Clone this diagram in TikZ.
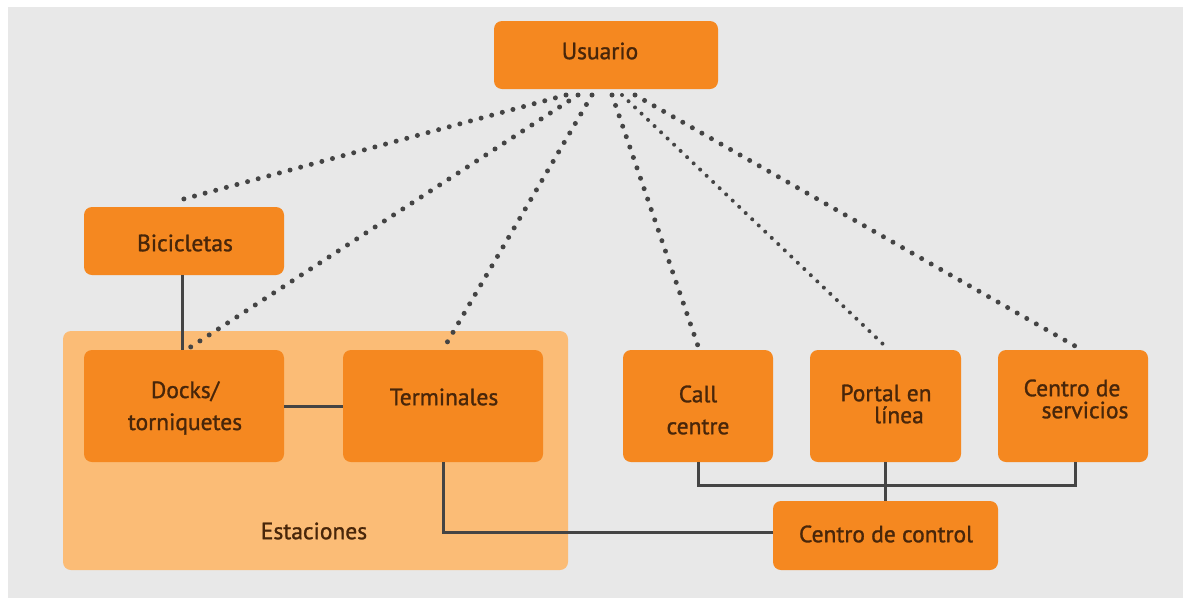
\documentclass[tikz,border=0pt]{standalone}
\usepackage{fontspec}
\setmainfont{PT Sans}
\newfontfamily\labfont{PT Sans}[FakeBold=1.2]
\definecolor{bgc}{RGB}{232,232,232}
\definecolor{orng}{RGB}{245,136,32}
\definecolor{lorng}{RGB}{251,188,118}
\definecolor{txt}{RGB}{72,38,10}
\definecolor{lnc}{RGB}{68,68,68}
\begin{document}
\begin{tikzpicture}[x=1pt,y=-1pt,
  box/.style={fill=orng,rounded corners=8pt,inner sep=0pt},
  lab/.style={text=txt,font=\labfont\fontsize{23.5}{23.5}\selectfont,align=center,inner sep=0pt},
  dots/.style={draw=lnc,line width=5pt,line cap=round,dash pattern=on 0pt off 11pt},
  thindots/.style={draw=lnc,line width=4pt,line cap=round,dash pattern=on 0pt off 9pt},
  solid line/.style={draw=lnc,line width=3pt}]
\useasboundingbox (0,0) rectangle (1183,598);
\fill[white] (0,0) rectangle (1183,598);
\fill[bgc] (8,7) rectangle (1183,598);
% Estaciones panel
\node[fill=lorng,rounded corners=8pt,minimum width=505pt,minimum height=239pt,inner sep=0pt] (est) at (315.5,450.5) {};
\node[lab] (estl) at (314,531) {Estaciones};
% boxes
\node[box,minimum width=224pt,minimum height=68pt] (usu) at (606,55) {};
\node[lab] (usut) at (600,51) {Usuario};
\node[box,minimum width=200pt,minimum height=68pt] (bic) at (184,241) {};
\node[lab] (bict) at (185,243) {Bicicletas};
\node[box,minimum width=200pt,minimum height=112pt] (doc) at (184,406) {};
\node[lab,font=\labfont\fontsize{23.5}{32}\selectfont] (doct) at (185,408) {Docks/\\torniquetes};
\node[box,minimum width=200pt,minimum height=112pt] (ter) at (443,406) {};
\node[lab] (tert) at (444,397) {Terminales};
\node[box,minimum width=150pt,minimum height=112pt] (cal) at (698,406) {};
\node[lab,font=\labfont\fontsize{23.5}{32}\selectfont] (calt) at (698,410) {Call\\centre};
\node[box,minimum width=151pt,minimum height=112pt] (por) at (885.5,406) {};
\node[lab,font=\labfont\fontsize{23.5}{22}\selectfont] (port) at (886,404) {Portal en\\\hspace*{26pt}línea};
\node[box,minimum width=150pt,minimum height=112pt] (ser) at (1073,406) {};
\node[lab,font=\labfont\fontsize{23.5}{22}\selectfont] (sert) at (1072,399) {Centro de\\\hspace*{26pt}servicios};
\node[box,minimum width=225pt,minimum height=69pt] (ctl) at (885.5,535.5) {};
\node[lab] (ctlt) at (886,534) {Centro de control};
% attachment coordinates
\coordinate (u1) at (566,95);
\coordinate (u2) at (578,95);
\coordinate (u3) at (592,95);
\coordinate (u4) at (612,95);
\coordinate (u5) at (622,95);
\coordinate (u6) at (635,95);
\coordinate (b1) at (180,200);
\coordinate (d1) at (186,350);
\coordinate (t1) at (445,346);
\coordinate (c1) at (698,346);
\coordinate (p1) at (885,346);
\coordinate (s1) at (1075,346);
% dotted connectors
\draw[dots] (u1) -- (b1);
\draw[dots] (u2) -- (d1);
\draw[dots] (u3) -- (t1);
\draw[dots] (u4) -- (c1);
\draw[thindots] (u5) -- (p1);
\draw[dots] (u6) -- (s1);
% solid connectors
\draw[solid line] (bic.south -| 182,0) -- (doc.north -| 182,0);
\draw[solid line] (doc.east) -- (ter.east -| ter.west);
\draw[solid line] (ter.south) -- (443,532) -- (ctl.west |- 0,532);
\draw[solid line] (cal.south) -- (698,485) -| (ser.south -| 1075,0);
\draw[solid line] (por.south) -- (ctl.north);
\end{tikzpicture}
\end{document}
